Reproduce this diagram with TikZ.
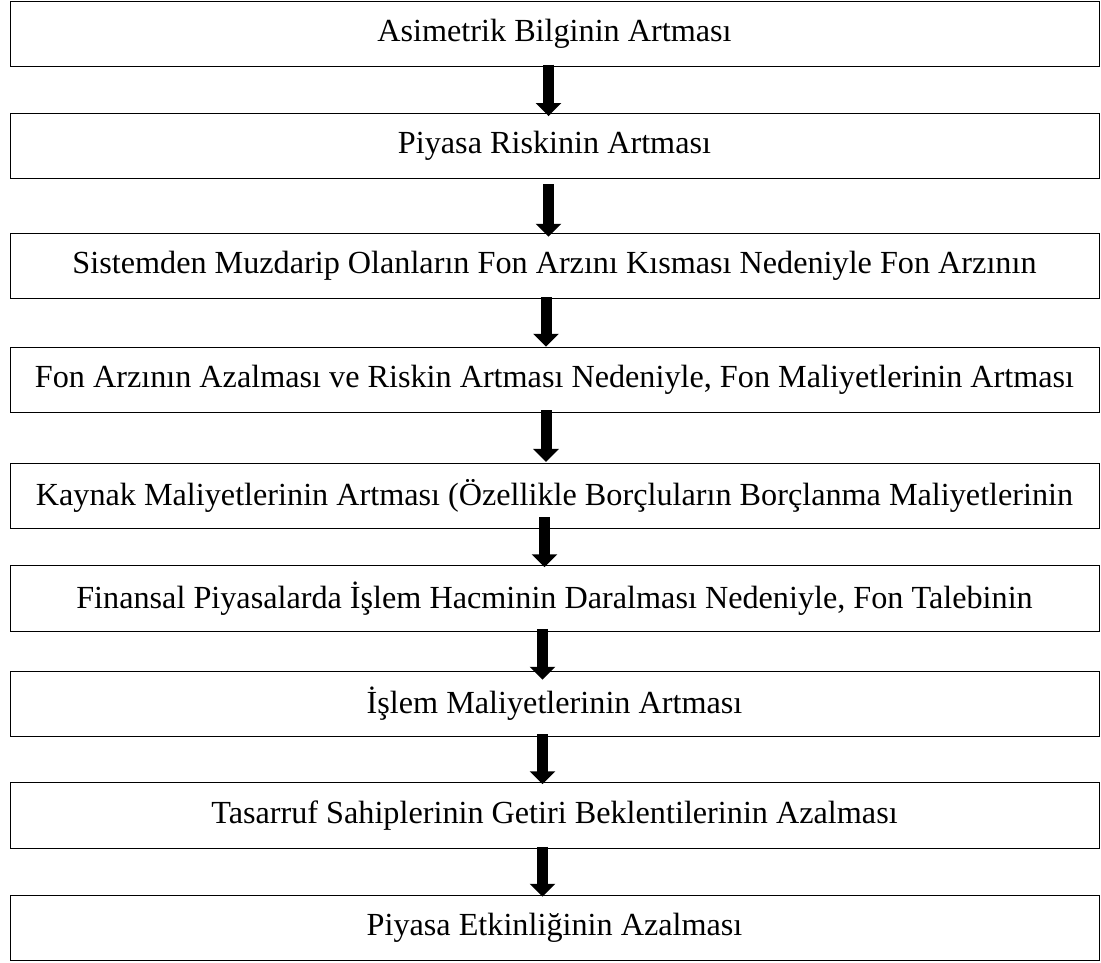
\documentclass[tikz,border=0pt]{standalone}
\usepackage{fontspec}
\setmainfont{Liberation Serif}
\usetikzlibrary{arrows.meta}
\tikzset{
  stepbox/.style={draw=black, line width=1pt, minimum width=1089pt, minimum height=65.5pt,
    inner sep=0pt, font=\fontsize{32.2}{37}\selectfont},
  downarrow/.style={line width=11pt, -{Triangle[width=25pt, length=13pt]}}
}
\begin{document}
\begin{tikzpicture}[x=1pt, y=-1pt]
      \useasboundingbox (0,0) rectangle (1101,963);
      \node[stepbox] (asimetri) at (554.5,34.1) {Asimetrik Bilginin Artması};
      \node[stepbox] (piyasarisk) at (554.5,146) {Piyasa Riskinin Artması};
      \node[stepbox] (sistem) at (554.5,266) {Sistemden Muzdarip Olanların Fon Arzını Kısması Nedeniyle Fon Arzının};
      \node[stepbox] (fonarz) at (554.5,380) {Fon Arzının Azalması ve Riskin Artması Nedeniyle, Fon Maliyetlerinin Artması};
      \node[stepbox] (kaynak) at (554.5,496.2) {Kaynak Maliyetlerinin Artması (Özellikle Borçluların Borçlanma Maliyetlerinin};
      \node[stepbox] (finansal) at (554.5,598.5) {Finansal Piyasalarda İşlem Hacminin Daralması Nedeniyle, Fon Talebinin};
      \node[stepbox] (islem) at (554.5,704) {İşlem Maliyetlerinin Artması};
      \node[stepbox] (tasarruf) at (554.5,815.5) {Tasarruf Sahiplerinin Getiri Beklentilerinin Azalması};
      \node[stepbox] (etkinlik) at (554.5,928) {Piyasa Etkinliğinin Azalması};
      \draw[downarrow] ([xshift=-6pt, yshift=2.7pt]asimetri.south) -- ([xshift=-6pt, yshift=-3.3pt]piyasarisk.north);
      \draw[downarrow] ([xshift=-6pt, yshift=-5pt]piyasarisk.south) -- ([xshift=-6pt, yshift=-4pt]sistem.north);
      \draw[downarrow] ([xshift=-8.5pt, yshift=2pt]sistem.south) -- ([xshift=-8.5pt]fonarz.north);
      \draw[downarrow] ([xshift=-8.5pt, yshift=3pt]fonarz.south) -- ([xshift=-8.5pt, yshift=1pt]kaynak.north);
      \draw[downarrow] ([xshift=-10pt, yshift=12pt]kaynak.south) -- ([xshift=-10pt, yshift=-2pt]finansal.north);
      \draw[downarrow] ([xshift=-12pt, yshift=3pt]finansal.south) -- ([xshift=-12pt, yshift=-9pt]islem.north);
      \draw[downarrow] ([xshift=-12pt, yshift=3pt]islem.south) -- ([xshift=-12pt, yshift=-2pt]tasarruf.north);
      \draw[downarrow] ([xshift=-12pt, yshift=2pt]tasarruf.south) -- ([xshift=-12pt, yshift=-2pt]etkinlik.north);
    \end{tikzpicture}
\end{document}
